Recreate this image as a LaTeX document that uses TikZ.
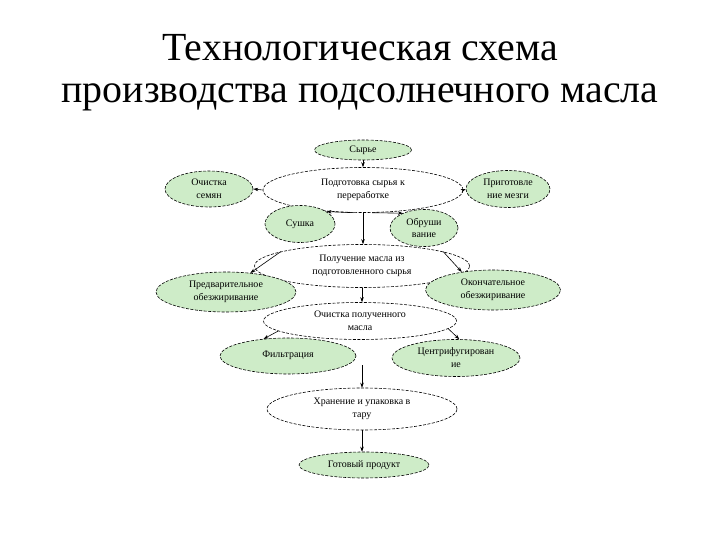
\documentclass[tikz,border=0pt]{standalone}
\usepackage{fontspec}
\setmainfont{Liberation Serif}
\usetikzlibrary{shapes.geometric,arrows.meta}
\definecolor{lgreen}{RGB}{206,236,200}
\tikzset{
  el/.style={ellipse, draw=black, line width=0.6pt, dash pattern=on 3pt off 1.5pt,
    inner sep=0pt, align=center, font=\fontsize{10}{13}\selectfont},
  gr/.style={el, fill=lgreen},
  wh/.style={el, fill=white},
  arr/.style={-{Stealth[length=5pt,width=3.5pt]}, line width=0.6pt},
  ttl/.style={font=\fontsize{40}{44}\selectfont, inner sep=0pt}
}
\begin{document}
\begin{tikzpicture}[x=1bp,y=-1bp]
\useasboundingbox (0,0) rectangle (720,540);
\node[ttl] (t1) at (360,48) {Технологическая схема};
\node[ttl] (t2) at (360,97) {производства подсолнечного масла};

\node[gr, minimum width=97bp, minimum height=20bp] (syr) at (363,150) {Сырье};
\node[wh, minimum width=200bp, minimum height=45bp] (podg) at (363,190) {Подготовка сырья к\\переработке};
\node[gr, minimum width=88bp, minimum height=36bp] (ochs) at (209,189) {Очистка\\семян};
\node[gr, minimum width=84bp, minimum height=37bp] (prig) at (508,189) {Приготовле\\ние мезги};
\node[gr, minimum width=70bp, minimum height=37bp] (sush) at (300,224) {Сушка};
\node[gr, minimum width=68bp, minimum height=37bp] (obr) at (424,228) {Обруши\\вание};
\node[wh, minimum width=215bp, minimum height=43bp] (polu) at (362,266) {Получение масла из\\подготовленного сырья};
\node[gr, minimum width=140bp, minimum height=40bp] (pred) at (226,292) {Предварительное\\обезжиривание};
\node[gr, minimum width=135bp, minimum height=40bp] (okon) at (493,290) {Окончательное\\обезжиривание};
\node[wh, minimum width=193bp, minimum height=37bp] (ochm) at (360,321) {Очистка полученного\\масла};
\node[gr, minimum width=136bp, minimum height=36bp] (filt) at (288,356) {\raisebox{3pt}{Фильтрация}};
\node[gr, minimum width=128bp, minimum height=37bp] (centr) at (456,358) {Центрифугирован\\ие};
\node[wh, minimum width=190bp, minimum height=42bp] (hran) at (362,409) {Хранение и упаковка в\\тару};
\node[gr, minimum width=130bp, minimum height=26bp] (gotov) at (364,465) {Готовый продукт};
\coordinate (mid) at (362,365);

\draw[arr] (syr.south) -- (syr.south |- podg.north);
\draw[arr] (podg.west) -- (ochs.east);
\draw[arr] (podg.east) -- (prig.west);
\draw[arr] (podg.248) -- (sush.25);
\draw[arr] (podg.292) -- (obr.145);
\draw[arr] (podg.south) -- (podg.south |- polu.north);
\draw[arr] (polu.170) -- (pred.38);
\draw[arr] (polu.10) -- (okon.150);
\draw[arr] (polu.south) -- (polu.south |- ochm.north);
\draw[arr] (ochm.187) -- (filt.145);
\draw[arr] (ochm.355) -- (centr.80);
\draw[arr] (mid) -- (mid |- hran.north);
\draw[arr] (hran.south) -- (hran.south |- gotov.north);
\end{tikzpicture}
\end{document}
